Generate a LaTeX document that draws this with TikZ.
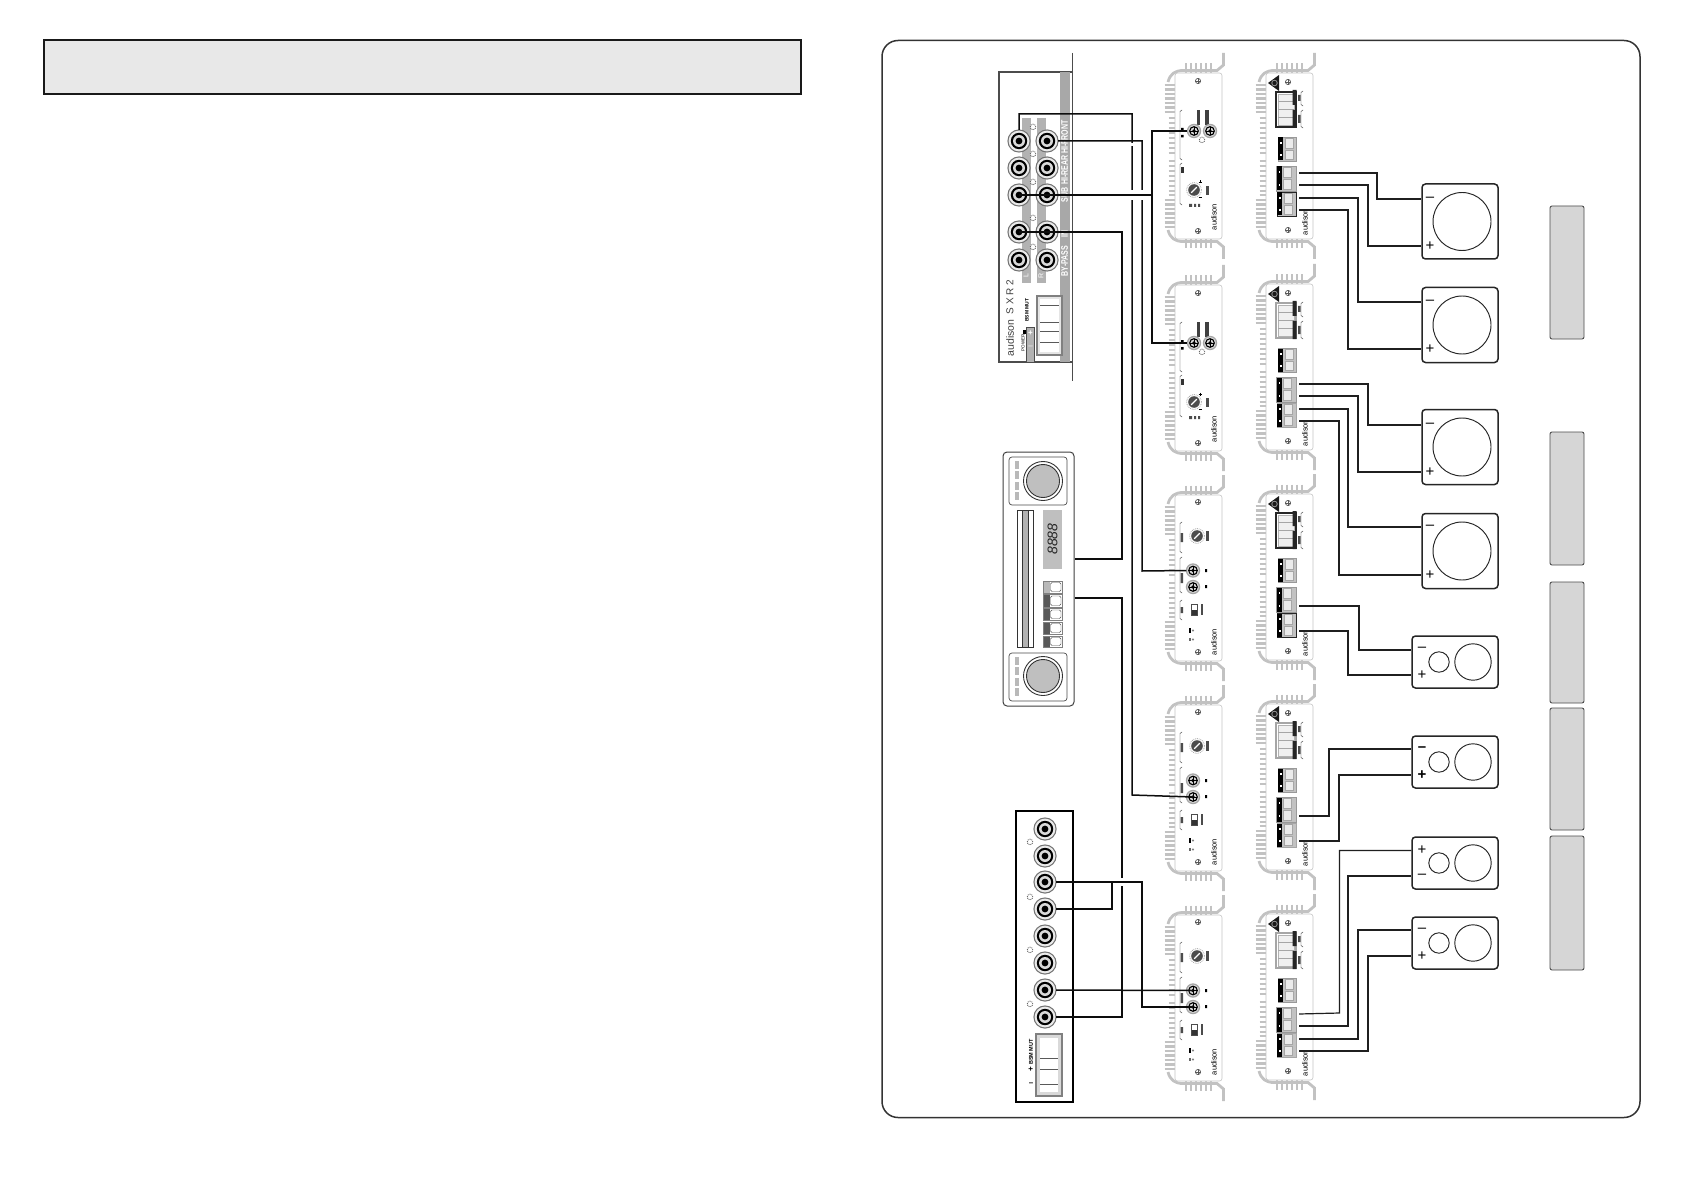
\documentclass[tikz,border=0pt]{standalone}
\usepackage{fontspec}
\setmainfont{Liberation Sans}
\definecolor{hs}{gray}{0.76}
\definecolor{panelgray}{gray}{0.84}
\definecolor{wireblk}{gray}{0.05}
\definecolor{wirer}{gray}{0.12}
\definecolor{blockgray}{gray}{0.76}
\newcommand\fsz[1]{\fontsize{#1}{#1}\selectfont}
\newcommand\screw[2]{\draw[gray!70!black,line width=.7pt,fill=white] (#1,#2) circle (2.6pt); \draw[gray!70!black,line width=.6pt] (#1-2.6,#2) -- (#1+2.6,#2) (#1,#2-2.6) -- (#1,#2+2.6);}
\newcommand\heatsink{%
  \foreach \yy in {12,16.5,21,25.5,30,34.5,39,127,131.5,136,140.5,145,149.5,154} \draw[hsline] (-10.5,\yy) -- (1,\yy);
  \foreach \yy in {45,50,55,60,65,70,75,80,88,93,98,103,108,113,118,122} \draw[hsline] (-6.5,\yy) -- (1,\yy);
  \foreach \xx in {11,16,21,26,31,36} { \draw[hsline] (\xx,-9.5) -- (\xx,1); \draw[hsline] (\xx,166) -- (\xx,175.5); }
  \draw[hsline,line width=2.8pt] (48.5,-20) -- (48.5,-8) -- (42,-2.5) -- (8,-2.5) .. controls (0,-2.5) and (-5,1) .. (-7,9);
  \draw[hsline,line width=2.8pt] (48.5,186) -- (48.5,174) -- (42,168.5) -- (8,168.5) .. controls (0,168.5) and (-5,165) .. (-7,157);
  \draw[gray!45,line width=.6pt,fill=white,rounded corners=2.5pt] (0,0) rectangle (47,166);
}
\newcommand\sqspk[3]{%
  \node[spkbox,minimum width=76pt,minimum height=75pt] (#1) at (1460,#2) {};
  \draw[spkline] (1462,#2) circle (29pt);
}
\newcommand\wdspk[2]{%
  \node[spkbox,minimum width=86pt,minimum height=52pt] (#1) at (1455,#2) {};
  \draw[spkline] (1439,#2) circle (10.2pt);
  \draw[spkline] (1473,#2) circle (18.2pt);
}
\newcommand\signtxt[3]{\node[font=\fsz{15},inner sep=0pt] at (#1,#2) {#3};}
\newcommand\bigjack[3]{%
  \fill[black!55] (#2,#3) circle (11.6pt);
  \fill[white!92!black] (#2,#3) circle (10.4pt);
  \fill[black] (#2,#3) circle (8.2pt);
  \fill[white!85!black] (#2,#3) circle (6pt);
  \fill[black] (#2,#3) circle (3.4pt);
  \node[jackpt] (#1) at (#2,#3) {};
}
\newcommand\gear[2]{\draw[gray!80!black,line width=.9pt,densely dotted,fill=white] (#1,#2) circle (2.8pt);}
\newcommand\smalljack[3]{%
  \fill[gray!70] (#1,#2) circle (7.2pt);
  \fill[white!85!black] (#1,#2) circle (5.8pt);
  \draw[black,line width=1.1pt] (#1,#2) circle (4.3pt);
  \fill[black] (#1,#2) circle (1.8pt);
  \draw[black,line width=.4pt] (#1-4,#2) -- (#1+4,#2) (#1,#2-4) -- (#1,#2+4);
  \node[jackpt,minimum size=13pt] (#3) at (#1,#2) {};
}
\newcommand\bracket[3]{\draw[black!80,line width=.45pt] (#1+2,#2) -- (#1,#2+1.5) -- (#1,#3-1.5) -- (#1+2,#3);}
\newcommand\knob[2]{%
  \draw[gray!70,line width=.8pt,densely dotted] (#1,#2) circle (7.4pt);
  \fill[black!70] (#1,#2) circle (5.8pt);
  \draw[white,line width=1.1pt] (#1-2.8,#2+2.8) -- (#1+2.8,#2-2.8);
}
\newcommand\audtxt[2]{\node[rotate=90,font=\fsz{7.5},text=black,inner sep=0pt] at (#1,#2) {audison};}
\newcommand\tblock[6]{% x1 y1 x2 y2 frame n
  \draw[#5,line width=.9pt,fill=blockgray] (#1,#2) rectangle (#3,#4);
  \fill[black] (#1,#2+.5) rectangle (#1+5,#4-.5);
  \foreach \nn in {1,...,#6} {
    \draw[gray!70,line width=.4pt,fill=white!92!black] (#1+7,{#2+1.5+(\nn-1)*(#4-#2-1)/#6}) rectangle (#1+15,{#2+(\nn)*(#4-#2-1)/#6-.5});
    \fill[white] (#1+2,{#2+(\nn-.5)*(#4-#2)/#6-1}) rectangle (#1+3.5,{#2+(\nn-.5)*(#4-#2)/#6+1});
  }
}
\newcommand\striptxt[2]{\node[rotate=90,text=white,font=\bfseries\fsz{9.5},inner sep=0pt] at (1064.5,#1) {\scalebox{.74}[1]{#2}};}
\tikzset{
  hsline/.style={hs,line width=2.2pt,line cap=butt},
  spkbox/.style={draw=black!85,line width=1.5pt,rounded corners=3.5pt,fill=white,inner sep=0pt,rectangle},
  spkline/.style={draw=black!85,line width=.95pt},
  grbar/.style={draw=black!70,line width=.9pt,fill=panelgray,rounded corners=2pt},
  jackpt/.style={circle,inner sep=0pt,minimum size=22pt},
  wire/.style={draw=wireblk,line width=1.5pt},
  wireo/.style={draw=wirer,line width=1.2pt},
  gap/.style={draw=white,line width=2.4pt},
  inA/.pic={
    \heatsink
    \screw{23}{8} \screw{23}{158}
    \bracket{5}{37}{87} \bracket{5}{90}{132}
    \fill[black!75] (21.5,37) rectangle (25,52);
    \fill[black!75] (30,37) rectangle (34,52);
    \smalljack{19}{58}{-jl} \smalljack{35}{58}{-jr}
    \gear{27}{67}
    \fill[black] (6,55) rectangle (8.5,57.5) (6,62) rectangle (8.5,64.5);
    \fill[black!80] (6,94) rectangle (8.5,100);
    \knob{19}{117}
    \draw[black,line width=.5pt] (23.5,109) -- (26.5,109) (25,107.5) -- (25,110.5) (23.5,124) -- (26.5,124);
    \fill[black!70] (31,113) rectangle (33.5,122);
    \fill[black!70] (14,131) rectangle (17,134) (19,131) rectangle (21,134) (23,131) rectangle (25,134);
    \audtxt{39}{144}
  },
  inB/.pic={
    \heatsink
    \screw{23}{7} \screw{23}{157}
    \bracket{5}{27}{58} \bracket{5}{62}{98} \bracket{5}{105}{125}
    \fill[black!70] (5.5,38) rectangle (8,47) (5.5,78) rectangle (8,88) (5.5,112) rectangle (8,118);
    \knob{22}{41}
    \fill[black!70] (31,36) rectangle (33.5,46);
    \smalljack{18}{75.5}{-jr} \smalljack{18}{92}{-jl}
    \fill[black] (30,74) rectangle (32,77) (30,90) rectangle (32,93);
    \draw[black!70,line width=.6pt,fill=white] (16.5,109) rectangle (22,120);
    \fill[black!80] (16.5,114.5) rectangle (22,120);
    \fill[black!70] (26,109) rectangle (28,120);
    \fill[black] (13.5,133) rectangle (16,138); \fill[black!60] (13.5,143) rectangle (16,146);
    \draw[black!60,line width=.4pt] (18,135.5) circle (.9pt) (18,144.5) circle (.9pt);
    \audtxt{39}{147}
  },
  outamp/.pic={
    \heatsink
    \fill[black!90] (2,10) -- (13,2) -- (13,18) -- cycle;
    \fill[black!40] (8.5,10) circle (3.2pt);
    \fill[black!90] (8.5,10) circle (2.2pt);
    \screw{22}{9} \screw{22}{157}
    \draw[#1,line width=1.1pt,fill=white] (10,19) rectangle (30,54);
    \draw[gray!60,line width=.4pt,fill=gray!12] (12,21) rectangle (28,52);
    \draw[gray!70,line width=.4pt] (12,28) -- (28,28) (12,36) -- (28,36) (12,44) -- (28,44);
    \fill[black!85] (26.5,17) rectangle (30.5,32) (26.5,37) rectangle (30.5,55);
    \bracket{35}{18}{33}
    \bracket{35}{37}{55}
    \fill[black!70] (32,22) rectangle (34.5,28) (32,42) rectangle (34.5,50);
    \tblock{12}{64}{30}{88}{gray!80}{2}
    \tblock{10.5}{93}{30}{118}{gray!80}{2}
    \tblock{11}{119}{30}{143}{#1}{2}
    \audtxt{39}{149}
    \coordinate (-t1) at (33,100);
    \coordinate (-t2) at (33,112);
    \coordinate (-t3) at (33,125);
    \coordinate (-t4) at (33,137);
  }
}
\begin{document}
\begin{tikzpicture}[x=1pt,y=-1pt,line join=miter]
\useasboundingbox (0,0) rectangle (1684,1190);
\fill[white] (0,0) rectangle (1684,1190);
% title box and frame
\node[draw=black!90,line width=2pt,fill=gray!18,minimum width=757pt,minimum height=54pt,inner sep=0pt,rectangle] (titlebox) at (422,67.5) {};
\node[draw=black!80,line width=1.5pt,rounded corners=16pt,minimum width=758pt,minimum height=1077pt,inner sep=0pt,rectangle] (frame) at (1261,579) {};

% SXR 2 crossover
\draw[gray!60!black,line width=1.5pt] (1073,72) -- (999,72) -- (999,362) -- (1073,362);
\fill[gray!68] (1060,72) rectangle (1070,362);
\draw[gray!60!black,line width=1.5pt] (1072.5,53) -- (1072.5,381);
\fill[gray!60] (1022,118) rectangle (1030.5,283);
\fill[gray!60] (1037,118) rectangle (1045.5,283);
\foreach \yy in {127,154,182,218,247} {\gear{1033}{\yy}}
\bigjack{sxrL1}{1019}{141} \bigjack{sxrR1}{1047}{141}
\bigjack{sxrL2}{1019}{168} \bigjack{sxrR2}{1047}{168}
\bigjack{sxrL3}{1019}{195} \bigjack{sxrR3}{1047}{195}
\bigjack{sxrL4}{1019}{232} \bigjack{sxrR4}{1047}{232}
\bigjack{sxrL5}{1019}{260} \bigjack{sxrR5}{1047}{260}
\node[rotate=90,text=white,font=\fsz{7},inner sep=0pt] at (1026,276) {L};
\node[rotate=90,text=white,font=\fsz{7},inner sep=0pt] at (1041,276) {R};
\striptxt{137}{HI-FRONT}
\striptxt{170}{HI-REAR}
\striptxt{195}{SUB}
\striptxt{234}{IN}
\striptxt{261}{BY-PASS}
\node[rotate=90,text=black!75,font=\fsz{10.5},inner sep=0pt] at (1010,338) {audison};
\node[rotate=90,text=black!75,font=\fsz{10},inner sep=0pt] at (1010,297) {S X R 2};
\node[rotate=90,font=\fsz{4.5},inner sep=0pt] at (1023,343) {POWER};
\fill[black] (1022.5,330) rectangle (1027,334);
\node[draw=black!70,line width=.7pt,fill=gray!60,minimum width=7.5pt,minimum height=35pt,inner sep=0pt,rectangle] (sxrtab) at (1030.5,344.5) {};
\node[text=white,font=\bfseries\fsz{8},inner sep=0pt] at (1030.5,333) {+};
\node[text=white,font=\fsz{8},inner sep=0pt] at (1030.5,347) {--};
\node[rotate=90,font=\bfseries\fsz{5},inner sep=0pt] at (1027,310) {BSM MUT};
\node[draw=gray,line width=1.2pt,fill=gray!20,minimum width=25pt,minimum height=59pt,inner sep=0pt,rectangle] (sxrsw) at (1049.5,325.5) {};
\fill[white] (1040,299) rectangle (1059,352);
\draw[gray!70!black,line width=.5pt] (1040,305) -- (1059,305) (1040,322) -- (1059,322) (1040,331) -- (1059,331) (1040,342) -- (1059,342);

% head unit
\node[draw=black!75,line width=1pt,rounded corners=4pt,fill=white,minimum width=71pt,minimum height=254pt,inner sep=0pt,rectangle] (hu) at (1038.5,579) {};
\foreach \py/\ky in {457/481,653/676} {
  \draw[black!70,line width=.7pt,rounded corners=3pt] (1009,\py) rectangle (1067,\py+48);
  \foreach \dy in {8,18,29,39} \fill[gray!55] (1015,\py+\dy-4) rectangle (1019,\py+\dy+4);
  \draw[black!80,line width=.9pt] (1043,\ky) circle (19.5pt);
  \draw[black!80,line width=.9pt,fill=gray!50] (1043,\ky) circle (16.5pt);
}
\draw[black!80,line width=.7pt,fill=white] (1017,510) rectangle (1033,647);
\draw[black!80,line width=.5pt,fill=gray!60] (1022,510) rectangle (1028,647);
\fill[gray!50] (1043,510) rectangle (1062,569);
\node[rotate=90,font=\itshape\fsz{14},text=black!85,inner sep=0pt] at (1052.5,539) {8888};
\foreach \ya/\yb/\cc in {581/593/gray!55,594.5/607/black!65,608.5/620/black!65,622/634/black!65,636/647/black!65} {
  \fill[white] (1043,\ya) rectangle (1062,\yb);
  \fill[\cc] (1043,\ya) rectangle (1049.5,\yb);
  \draw[black!70,line width=.4pt,rounded corners=1.5pt] (1050.5,\ya+1.5) rectangle (1061,\yb-1.5);
  \draw[gray,line width=.4pt] (1043,\ya) rectangle (1062,\yb);
}

% lower-left RCA box
\node[draw=black,line width=1.4pt,fill=white,minimum width=57pt,minimum height=291pt,inner sep=0pt,rectangle] (rcabox) at (1044.5,956.5) {};
\bigjack{rca1}{1045}{829} \bigjack{rca2}{1045}{856} \bigjack{rca3}{1045}{882} \bigjack{rca4}{1045}{909}
\bigjack{rca5}{1045}{936} \bigjack{rca6}{1045}{963} \bigjack{rca7}{1045}{990} \bigjack{rca8}{1045}{1017}
\foreach \yy in {842,897,950,1004} {\gear{1030}{\yy}}
\node[draw=gray,line width=1.2pt,fill=gray!30,minimum width=26pt,minimum height=62pt,inner sep=0pt,rectangle] (rcasw) at (1049,1065) {};
\fill[white] (1040,1038) rectangle (1058,1092);
\draw[gray!70!black,line width=.5pt] (1040,1058) -- (1058,1058) (1040,1069) -- (1058,1069) (1040,1084) -- (1058,1084);
\node[rotate=90,font=\bfseries\fsz{5.5},inner sep=0pt] at (1031,1052) {BSM MUT};
\node[font=\bfseries\fsz{8},rotate=90,inner sep=0pt] at (1031,1069) {+};
\node[font=\bfseries\fsz{8},inner sep=0pt] at (1031,1084) {--};

% amplifiers
\pic (a1) at (1175,73) {inA};
\pic (a2) at (1175,285) {inA};
\pic (a3) at (1175,495) {inB};
\pic (a4) at (1175,705) {inB};
\pic (a5) at (1175,915) {inB};
\pic (o1) at (1266,73) {outamp={black!85}};
\pic (o2) at (1266,284) {outamp={gray!70}};
\pic (o3) at (1266,494) {outamp={black!85}};
\pic (o4) at (1266,704) {outamp={gray!70}};
\pic (o5) at (1266,914) {outamp={gray!70}};

% speakers
\sqspk{s1}{221.5}{} \sqspk{s2}{325}{} \sqspk{s3}{447}{} \sqspk{s4}{551}{}
\wdspk{s5}{662} \wdspk{s6}{762} \wdspk{s7}{863} \wdspk{s8}{943}
\coordinate (s1m) at (s1.west |- 0,199); \coordinate (s1p) at (s1.west |- 0,246);
\coordinate (s2m) at (s2.west |- 0,302); \coordinate (s2p) at (s2.west |- 0,349);
\coordinate (s3m) at (s3.west |- 0,425); \coordinate (s3p) at (s3.west |- 0,472);
\coordinate (s4m) at (s4.west |- 0,527); \coordinate (s4p) at (s4.west |- 0,575);
\coordinate (s5m) at (s5.west |- 0,650); \coordinate (s5p) at (s5.west |- 0,675);
\coordinate (s6m) at (s6.west |- 0,749); \coordinate (s6p) at (s6.west |- 0,775);
\coordinate (s7p) at (s7.west |- 0,850.5); \coordinate (s7m) at (s7.west |- 0,876);
\coordinate (s8m) at (s8.west |- 0,930); \coordinate (s8p) at (s8.west |- 0,956);
\signtxt{1430}{199}{--} \signtxt{1430}{246}{+}
\signtxt{1430}{302}{--} \signtxt{1430}{349}{+}
\signtxt{1430}{425}{--} \signtxt{1430}{472}{+}
\signtxt{1430}{527}{--} \signtxt{1430}{575}{+}
\signtxt{1422}{649}{--} \signtxt{1422}{675}{+}
\node[font=\bfseries\fsz{15},inner sep=0pt] at (1422,749) {--};
\node[font=\bfseries\fsz{15},inner sep=0pt] at (1422,775) {+};
\signtxt{1422}{850}{+} \signtxt{1422}{876}{--}
\signtxt{1422}{930}{--} \signtxt{1422}{956}{+}

% grey bars
\node[grbar,minimum width=34pt,minimum height=133pt,inner sep=0pt,rectangle] (b1) at (1567,272.5) {};
\node[grbar,minimum width=34pt,minimum height=133pt,inner sep=0pt,rectangle] (b2) at (1567,498.5) {};
\node[grbar,minimum width=34pt,minimum height=121pt,inner sep=0pt,rectangle] (b3) at (1567,642.5) {};
\node[grbar,minimum width=34pt,minimum height=122pt,inner sep=0pt,rectangle] (b4) at (1567,769) {};
\node[grbar,minimum width=34pt,minimum height=134pt,inner sep=0pt,rectangle] (b5) at (1567,903) {};

% input wiring
\draw[wire] (sxrL1.north) |- (1132,114) -- (1132,795) -- (a4-jl.center);
\draw[wire] (sxrR1.east) -- (1142,141) -- (1142,571) -- (a3-jr.west);
\draw[gap] (1132,143) -- (1132,146.5);
\draw[gap] (1132,190) -- (1132,200) (1142,190) -- (1142,200);
\draw[wire] (sxrL3.center) -- (sxrR3.center) -- (1152,195);
\draw[wire] (a1-jl.west) -- (1152,131) -- (1152,343) -- (a2-jl.west);
\draw[wire] (sxrL4.center) -- (sxrR4.center) -- (1122,232) -- (1122,559) -- (hu.east |- 0,559);
\draw[wire] (hu.east |- 0,598) -- (1122,598) -- (1122,1017) -- (rca8.east);
\draw[gap] (1122,878) -- (1122,886);
\draw[wire] (rca3.east) -- (1142,882) -- (1142,1007) -- (a5-jl.center);
\draw[wire] (rca4.east) -- (1112,909) -- (1112,882);
\draw[wire] (rca7.east) -- (a5-jr.center);

% output wiring
\draw[wireo] (o1-t1) -- (1377,173) -- (1377,199) -- (s1m);
\draw[wireo] (o1-t2) -- (1368,185) -- (1368,246) -- (s1p);
\draw[wireo] (o1-t3) -- (1358,198) -- (1358,302) -- (s2m);
\draw[wireo] (o1-t4) -- (1348,210) -- (1348,349) -- (s2p);
\draw[wireo] (o2-t1) -- (1368,384) -- (1368,425) -- (s3m);
\draw[wireo] (o2-t2) -- (1358,396) -- (1358,472) -- (s3p);
\draw[wireo] (o2-t3) -- (1348,409) -- (1348,527) -- (s4m);
\draw[wireo] (o2-t4) -- (1339,421) -- (1339,575) -- (s4p);
\draw[wireo] (o3-t2) -- (1359,606) -- (1359,650) -- (s5m);
\draw[wireo] (o3-t4) -- (1348,631) -- (1348,675) -- (s5p);
\draw[wireo] (o4-t2) -- (1329,816) -- (1329,749) -- (s6m);
\draw[wireo] (o4-t4) -- (1339,841) -- (1339,775) -- (s6p);
\draw[wireo] (o5-t1) -- (1339.5,1013) -- (1339.5,850.5) -- (s7p);
\draw[wireo] (o5-t2) -- (1348,1026) -- (1348,876) -- (s7m);
\draw[wireo] (o5-t3) -- (1358,1039) -- (1358,930) -- (s8m);
\draw[wireo] (o5-t4) -- (1368,1051) -- (1368,956) -- (s8p);
\end{tikzpicture}
\end{document}
